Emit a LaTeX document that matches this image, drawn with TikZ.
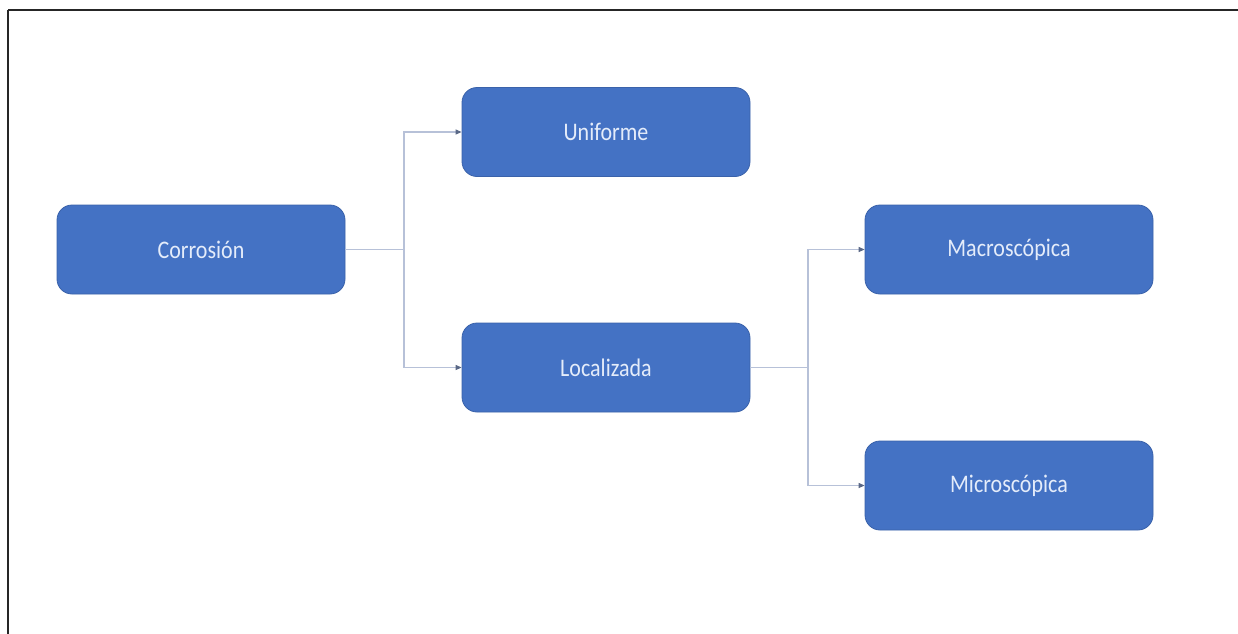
\documentclass[tikz,border=0pt]{standalone}
\usepackage{fontspec}
\setmainfont{Carlito}
\usetikzlibrary{arrows.meta}
\definecolor{boxblue}{HTML}{4472C4}
\definecolor{boxedge}{HTML}{3A62AA}
\definecolor{boxtext}{HTML}{E4ECFA}
\definecolor{linkcol}{HTML}{B7C1D8}
\definecolor{tipcol}{HTML}{5A6886}
\newcommand{\boxlabel}[1]{\scalebox{1}[1.15]{#1}}
\tikzset{
  catbox/.style={draw=boxedge, line width=0.8pt, fill=boxblue, rounded corners=15pt,
    minimum width=288pt, minimum height=89pt, inner sep=0pt,
    text=boxtext, font=\fontsize{22}{26}\selectfont},
  link/.style={draw=linkcol, line width=1.1pt,
    -{Triangle[length=6pt,width=5pt,color=tipcol]}},
  plain/.style={draw=linkcol, line width=1.1pt}
}
\begin{document}
\begin{tikzpicture}[x=1pt,y=-1pt]
\path[use as bounding box] (0,0) rectangle (1238,633);
\clip (0,0) rectangle (1238,633);
\fill[white] (0,0) rectangle (1238,633);
\draw[line width=2.2pt, black!85] (8,10) -- (1300,10);
\draw[line width=2.2pt, black!85] (8,10) -- (8,700);
\node[catbox] (corr) at (201,249.5) {\boxlabel{Corrosión}};
\node[catbox] (unif) at (606,132) {\boxlabel{Uniforme}};
\node[catbox] (loc) at (606,367.5) {\boxlabel{Localizada}};
\node[catbox] (macro) at (1009,249.5) {\boxlabel{Macroscópica}};
\node[catbox] (micro) at (1009,485.5) {\boxlabel{Microscópica}};
\coordinate (j1) at (404,249.5);
\coordinate (j2) at (808,367.5);
\draw[plain] (corr.east) -- (j1);
\draw[link] (j1) |- (unif.west);
\draw[link] (j1) |- (loc.west);
\draw[plain] (loc.east) -- (j2);
\draw[link] (j2) |- (macro.west);
\draw[link] (j2) |- (micro.west);
\end{tikzpicture}
\end{document}
